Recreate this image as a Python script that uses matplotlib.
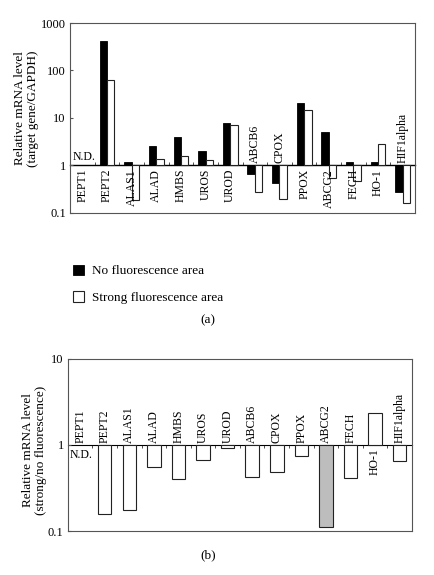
import numpy as np
import matplotlib
matplotlib.use('Agg')
import matplotlib.pyplot as plt

plt.rcParams['font.family'] = ['Liberation Serif', 'DejaVu Serif']

#- Genes and relative mRNA levels (nan = N.D.)
genes = ['PEPT1', 'PEPT2', 'ALAS1', 'ALAD', 'HMBS', 'UROS', 'UROD', 'ABCB6',
         'CPOX', 'PPOX', 'ABCG2', 'FECH', 'HO-1', 'HIF1alpha']
no_fluor = [np.nan, 408, 1.16, 2.6, 4.0, 2.0, 7.7, 0.66,
            0.42, 20.2, 5.1, 1.21, 1.21, 0.27]
strong_fluor = [np.nan, 62, 0.19, 1.38, 1.57, 1.29, 7.1, 0.27,
                0.20, 14.9, 0.54, 0.48, 2.8, 0.166]
ratio = [np.nan, 0.156, 0.174, 0.55, 0.40, 0.675, 0.93, 0.42,
         0.49, 0.74, 0.112, 0.41, 2.36, 0.645]
ratio_colors = ['white'] * 10 + ['#bdbdbd'] + ['white'] * 3

x = np.arange(len(genes))
frame_col = '#555555'

fig = plt.figure(figsize=(4.35, 5.75), dpi=100)
axA = fig.add_axes([0.161, 0.6296, 0.793, 0.3304])
axB = fig.add_axes([0.156, 0.0765, 0.791, 0.2992])


def setup(ax, ylo, yhi, ticks, labels, base_frac):
    ax.set_yscale('log')
    ax.set_ylim(ylo, yhi)
    ax.set_xlim(-0.5, len(genes) - 0.5)
    ax.set_yticks(ticks)
    ax.set_yticklabels(labels)
    ax.yaxis.set_minor_locator(matplotlib.ticker.NullLocator())
    ax.tick_params(axis='y', direction='in', length=2, labelsize=9,
                   color=frame_col, pad=3)
    ax.set_xticks([])
    for s in ax.spines.values():
        s.set_color(frame_col)
        s.set_linewidth(0.8)
    # baseline at 1 with small ticks between groups
    sec = ax.secondary_xaxis(base_frac)
    sec.set_xticks(x[:-1] + 0.5)
    sec.set_xticklabels([])
    sec.tick_params(direction='in', length=2, width=0.6, color='#333333')
    sec.spines['bottom'].set_color('black')
    sec.spines['bottom'].set_linewidth(1.0)


#- (a) expression levels
setup(axA, 0.1, 1000, [0.1, 1, 10, 100, 1000], ['0.1', '1', '10', '100', '1000'], 0.25)
nf = np.array(no_fluor)
sf = np.array(strong_fluor)
bw = 0.3
b1 = axA.bar(x - bw / 2, nf - 1, bottom=1, width=bw, color='black',
             edgecolor='black', linewidth=0.6, label='No fluorescence area')
b2 = axA.bar(x + bw / 2, sf - 1, bottom=1, width=bw, color='white',
             edgecolor='#222222', linewidth=0.8, label='Strong fluorescence area')
for i, g in enumerate(genes):
    above = (not np.isnan(nf[i])) and nf[i] < 1 and sf[i] < 1
    if above:
        axA.annotate(g, (i, 1), xytext=(0, 1.5), textcoords='offset points',
                     rotation=90, ha='center', va='bottom', fontsize=8.5)
    else:
        axA.annotate(g, (i, 1), xytext=(0, -2.5), textcoords='offset points',
                     rotation=90, ha='center', va='top', fontsize=8.5)
axA.annotate('N.D.', (-0.4, 1), xytext=(0, 2), textcoords='offset points',
             ha='left', va='bottom', fontsize=8.5)
axA.set_ylabel('Relative mRNA level\n(target gene/GAPDH)', fontsize=9.5,
               linespacing=1.1)
axA.yaxis.set_label_coords(-0.09, 0.55)

fig.legend(handles=[b1, b2], loc='upper left', bbox_to_anchor=(0.152, 1 - 258 / 575),
           frameon=False, fontsize=9.5, borderpad=0, handlelength=0.85,
           handleheight=0.85, handletextpad=0.6, labelspacing=1.05)
fig.text(208 / 435, 1 - 320 / 575, '(a)', ha='center', va='center', fontsize=9.5)

#- (b) strong / no fluorescence ratio
setup(axB, 0.1, 10, [0.1, 1, 10], ['0.1', '1', '10'], 0.5)
rt = np.array(ratio)
axB.bar(x, rt - 1, bottom=1, width=0.55, color=ratio_colors,
        edgecolor='#222222', linewidth=0.8)
for i, g in enumerate(genes):
    if (not np.isnan(rt[i])) and rt[i] > 1:
        axB.annotate(g, (i, 1), xytext=(0, -2.5), textcoords='offset points',
                     rotation=90, ha='center', va='top', fontsize=8.5)
    else:
        axB.annotate(g, (i, 1), xytext=(0, 1.5), textcoords='offset points',
                     rotation=90, ha='center', va='bottom', fontsize=8.5)
axB.annotate('N.D.', (-0.42, 1), xytext=(0, -3), textcoords='offset points',
             ha='left', va='top', fontsize=8.5)
axB.set_ylabel('Relative mRNA level\n(strong/no fluorescence)', fontsize=9.5,
               linespacing=1.1)
axB.yaxis.set_label_coords(-0.061, 0.47)
fig.text(208 / 435, 1 - 555 / 575, '(b)', ha='center', va='center', fontsize=9.5)

fig.savefig('out.png', dpi=100)
